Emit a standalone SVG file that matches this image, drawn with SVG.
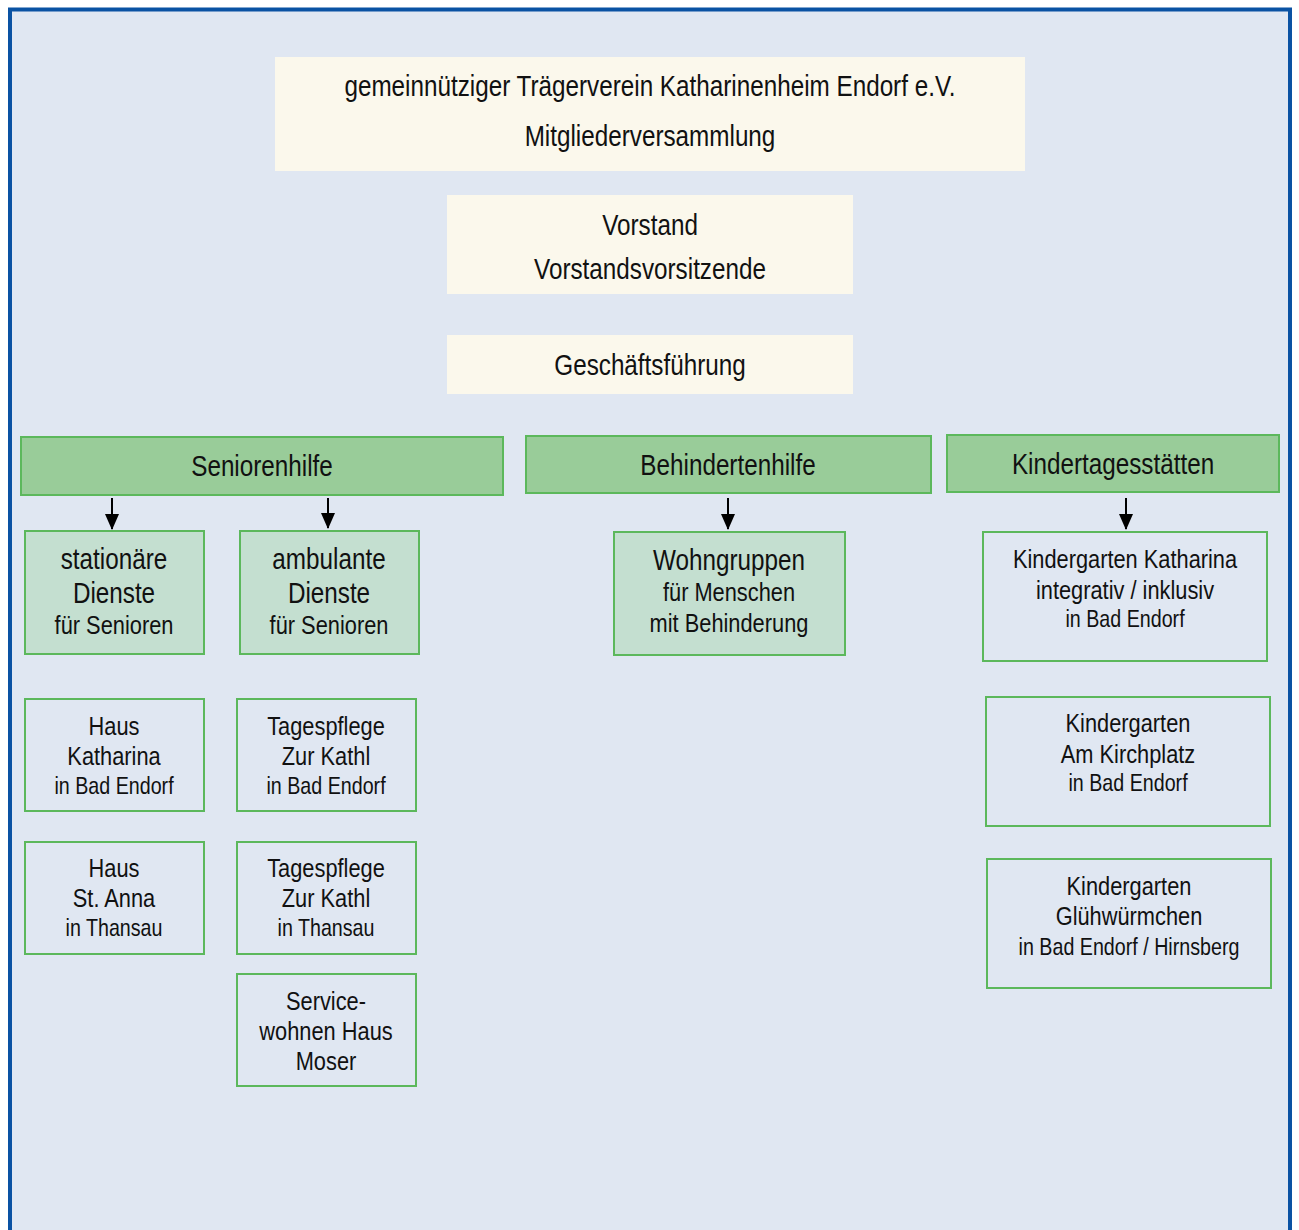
<svg xmlns="http://www.w3.org/2000/svg" width="1299" height="1230" viewBox="0 0 1299 1230">
<defs>
<style>
text{font-family:"Liberation Sans Narrow","Liberation Sans",Arial,sans-serif;fill:#111;text-anchor:middle}
.cream{fill:#fbf8ec}
.cat{fill:#99cc99;stroke:#5cb85c;stroke-width:2}
.sub{fill:#c4dfd0;stroke:#5cb85c;stroke-width:2}
.leaf{fill:none;stroke:#5cb85c;stroke-width:2}
.l{font-size:29.6px}
.m{font-size:26.6px}
.s{font-size:24px}
.conn line{stroke:#000;stroke-width:2}
</style>
<marker id="ah" viewBox="0 0 16 14" refX="15" refY="7" markerWidth="16" markerHeight="14" markerUnits="userSpaceOnUse" orient="auto">
<path d="M0,0 L16,7 L0,14 z" fill="#000"/>
</marker>
</defs>
<rect x="10" y="9.5" width="1280" height="1240" fill="#e0e7f2" stroke="#0a52a3" stroke-width="4"/>

<g id="traegerverein">
<rect class="cream" x="275" y="57" width="750" height="114"/>
<text class="l" transform="translate(650 96) scale(0.82 1)">gemeinnütziger Trägerverein Katharinenheim Endorf e.V.</text>
<text class="l" transform="translate(650 146) scale(0.82 1)">Mitgliederversammlung</text>
</g>
<g id="vorstand">
<rect class="cream" x="447" y="195" width="406" height="99"/>
<text class="l" transform="translate(650 235) scale(0.82 1)">Vorstand</text>
<text class="l" transform="translate(650 279) scale(0.82 1)">Vorstandsvorsitzende</text>
</g>
<g id="geschaeftsfuehrung">
<rect class="cream" x="447" y="335" width="406" height="59"/>
<text class="l" transform="translate(650 375) scale(0.82 1)">Geschäftsführung</text>
</g>

<g id="seniorenhilfe">
<rect class="cat" x="21" y="437" width="482" height="58"/>
<text class="l" transform="translate(262 476) scale(0.82 1)">Seniorenhilfe</text>
</g>
<g id="behindertenhilfe">
<rect class="cat" x="526" y="436" width="405" height="57"/>
<text class="l" transform="translate(728 475) scale(0.82 1)">Behindertenhilfe</text>
</g>
<g id="kindertagesstaetten">
<rect class="cat" x="947" y="435" width="332" height="57"/>
<text class="l" transform="translate(1113 474) scale(0.82 1)">Kindertagesstätten</text>
</g>

<g class="conn" id="connectors">
<line x1="112" y1="498" x2="112" y2="529" marker-end="url(#ah)"/>
<line x1="328" y1="498" x2="328" y2="528" marker-end="url(#ah)"/>
<line x1="728" y1="498" x2="728" y2="529" marker-end="url(#ah)"/>
<line x1="1126" y1="498" x2="1126" y2="529" marker-end="url(#ah)"/>
</g>

<g id="stationaere">
<rect class="sub" x="25" y="531" width="179" height="123"/>
<text class="l" transform="translate(114 569) scale(0.82 1)">stationäre</text>
<text class="l" transform="translate(114 603) scale(0.82 1)">Dienste</text>
<text class="m" transform="translate(114 634) scale(0.82 1)">für Senioren</text>
</g>
<g id="ambulante">
<rect class="sub" x="240" y="531" width="179" height="123"/>
<text class="l" transform="translate(329 569) scale(0.82 1)">ambulante</text>
<text class="l" transform="translate(329 603) scale(0.82 1)">Dienste</text>
<text class="m" transform="translate(329 634) scale(0.82 1)">für Senioren</text>
</g>
<g id="wohngruppen">
<rect class="sub" x="614" y="532" width="231" height="123"/>
<text class="l" transform="translate(729 570) scale(0.82 1)">Wohngruppen</text>
<text class="m" transform="translate(729 601) scale(0.82 1)">für Menschen</text>
<text class="m" transform="translate(729 632) scale(0.82 1)">mit Behinderung</text>
</g>

<g id="kiga-katharina">
<rect class="leaf" x="983" y="532" width="284" height="129"/>
<text class="m" transform="translate(1125 568) scale(0.82 1)">Kindergarten Katharina</text>
<text class="m" transform="translate(1125 599) scale(0.82 1)">integrativ / inklusiv</text>
<text class="s" transform="translate(1125 627) scale(0.82 1)">in Bad Endorf</text>
</g>
<g id="kiga-kirchplatz">
<rect class="leaf" x="986" y="697" width="284" height="129"/>
<text class="m" transform="translate(1128 732) scale(0.82 1)">Kindergarten</text>
<text class="m" transform="translate(1128 763) scale(0.82 1)">Am Kirchplatz</text>
<text class="s" transform="translate(1128 791) scale(0.82 1)">in Bad Endorf</text>
</g>
<g id="kiga-gluehwuermchen">
<rect class="leaf" x="987" y="859" width="284" height="129"/>
<text class="m" transform="translate(1129 895) scale(0.82 1)">Kindergarten</text>
<text class="m" transform="translate(1129 925) scale(0.82 1)">Glühwürmchen</text>
<text class="s" transform="translate(1129 955) scale(0.82 1)">in Bad Endorf / Hirnsberg</text>
</g>

<g id="haus-katharina">
<rect class="leaf" x="25" y="699" width="179" height="112"/>
<text class="m" transform="translate(114 735) scale(0.82 1)">Haus</text>
<text class="m" transform="translate(114 765) scale(0.82 1)">Katharina</text>
<text class="s" transform="translate(114 794) scale(0.82 1)">in Bad Endorf</text>
</g>
<g id="haus-st-anna">
<rect class="leaf" x="25" y="842" width="179" height="112"/>
<text class="m" transform="translate(114 877) scale(0.82 1)">Haus</text>
<text class="m" transform="translate(114 907) scale(0.82 1)">St. Anna</text>
<text class="s" transform="translate(114 936) scale(0.82 1)">in Thansau</text>
</g>
<g id="tagespflege-bad-endorf">
<rect class="leaf" x="237" y="699" width="179" height="112"/>
<text class="m" transform="translate(326 735) scale(0.82 1)">Tagespflege</text>
<text class="m" transform="translate(326 765) scale(0.82 1)">Zur Kathl</text>
<text class="s" transform="translate(326 794) scale(0.82 1)">in Bad Endorf</text>
</g>
<g id="tagespflege-thansau">
<rect class="leaf" x="237" y="842" width="179" height="112"/>
<text class="m" transform="translate(326 877) scale(0.82 1)">Tagespflege</text>
<text class="m" transform="translate(326 907) scale(0.82 1)">Zur Kathl</text>
<text class="s" transform="translate(326 936) scale(0.82 1)">in Thansau</text>
</g>
<g id="servicewohnen">
<rect class="leaf" x="237" y="974" width="179" height="112"/>
<text class="m" transform="translate(326 1010) scale(0.82 1)">Service-</text>
<text class="m" transform="translate(326 1040) scale(0.82 1)">wohnen Haus</text>
<text class="m" transform="translate(326 1070) scale(0.82 1)">Moser</text>
</g>
</svg>
